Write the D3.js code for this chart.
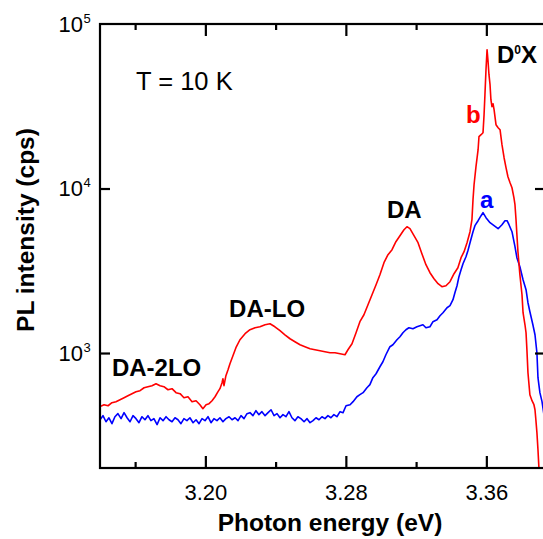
<!DOCTYPE html>
<html><head><meta charset="utf-8">
<script src="https://cdn.jsdelivr.net/npm/d3@7"></script>
<style>body{margin:0;background:#fff} svg text{font-family:"Liberation Sans",Arial,sans-serif}</style>
</head><body>
<svg id="chart" width="543" height="539"></svg>
<script>
// Photon energy (eV) vs PL intensity (cps), spectrum b (red)
const redSpectrum = [
[3.1400,472],[3.1423,485],[3.1446,478],[3.1468,499],[3.1491,506],[3.1514,520],[3.1537,535],[3.1559,550],
[3.1582,566],[3.1605,582],[3.1628,590],[3.1651,615],[3.1673,624],[3.1696,633],[3.1719,651],[3.1742,633],
[3.1764,624],[3.1787,598],[3.1810,607],[3.1833,574],[3.1856,566],[3.1878,535],[3.1901,542],[3.1924,506],
[3.1947,513],[3.1969,485],[3.1986,459],[3.2004,485],[3.2021,492],[3.2038,513],[3.2055,542],[3.2072,582],
[3.2083,607],[3.2095,660],[3.2100,698],[3.2106,633],[3.2117,728],[3.2129,791],[3.2140,861],[3.2157,963],
[3.2174,1077],[3.2197,1204],[3.2226,1310],[3.2254,1385],[3.2283,1424],[3.2311,1444],[3.2340,1485],[3.2368,1506],
[3.2396,1444],[3.2425,1366],[3.2453,1291],[3.2482,1221],[3.2510,1171],[3.2539,1123],[3.2567,1092],[3.2596,1062],
[3.2624,1047],[3.2653,1032],[3.2681,1018],[3.2710,1004],[3.2738,1004],[3.2767,990],[3.2795,976],[3.2812,1047],
[3.2835,1139],[3.2858,1328],[3.2880,1550],[3.2903,1709],[3.2926,1966],[3.2949,2261],[3.2972,2601],[3.2994,2992],
[3.3017,3539],[3.3040,3959],[3.3063,4246],[3.3085,4749],[3.3108,5166],[3.3131,5618],[3.3148,5859],[3.3165,5697],
[3.3188,5166],[3.3211,4683],[3.3233,4015],[3.3256,3442],[3.3279,3077],[3.3302,2829],[3.3325,2638],[3.3347,2530],
[3.3370,2565],[3.3393,2713],[3.3416,3034],[3.3438,3300],[3.3456,3796],[3.3473,4129],[3.3490,4683],[3.3507,5463],
[3.3518,6462],[3.3524,8551],[3.3530,10544],[3.3541,13568],[3.3553,17210],[3.3558,20650],[3.3570,21235],[3.3581,21840],
[3.3587,28093],[3.3592,37175],[3.3598,52760],[3.3604,69810],[3.3609,60670],[3.3615,49193],[3.3621,42760],[3.3626,34660],
[3.3632,31423],[3.3638,32773],[3.3644,30130],[3.3655,24420],[3.3667,23417],[3.3678,22770],[3.3689,18462],[3.3701,15385],
[3.3712,13380],[3.3723,11795],[3.3735,10845],[3.3746,10110],[3.3757,8794],[3.3763,7973],[3.3769,6462],[3.3774,5238],
[3.3780,4129],[3.3791,2992],[3.3803,2261],[3.3809,1758],[3.3820,1485],[3.3826,1328],[3.3831,1047],[3.3837,759],
[3.3848,558],[3.3860,513],[3.3871,485],[3.3877,452],[3.3882,393],[3.3888,328],[3.3894,258],[3.3899,204],[3.3905,170]
];
// spectrum a (blue)
const blueSpectrum = [
[3.1400,393],[3.1417,416],[3.1434,382],[3.1451,404],[3.1468,372],[3.1485,410],[3.1502,428],[3.1520,399],
[3.1537,434],[3.1554,404],[3.1571,382],[3.1588,416],[3.1605,399],[3.1622,377],[3.1639,410],[3.1656,393],
[3.1673,416],[3.1690,388],[3.1707,399],[3.1725,367],[3.1742,404],[3.1759,388],[3.1776,410],[3.1793,393],
[3.1810,382],[3.1827,404],[3.1844,393],[3.1861,372],[3.1878,399],[3.1895,388],[3.1912,404],[3.1930,377],
[3.1947,393],[3.1964,372],[3.1981,399],[3.1998,388],[3.2015,410],[3.2032,377],[3.2049,399],[3.2066,388],
[3.2083,404],[3.2100,382],[3.2117,399],[3.2135,410],[3.2152,393],[3.2169,404],[3.2186,388],[3.2203,416],
[3.2220,399],[3.2237,428],[3.2254,434],[3.2271,416],[3.2288,446],[3.2305,422],[3.2322,440],[3.2340,416],
[3.2357,434],[3.2374,452],[3.2391,416],[3.2408,428],[3.2425,404],[3.2442,422],[3.2459,410],[3.2476,440],
[3.2493,404],[3.2510,388],[3.2527,410],[3.2544,399],[3.2562,382],[3.2579,399],[3.2596,377],[3.2613,388],
[3.2630,404],[3.2647,393],[3.2664,410],[3.2681,399],[3.2698,416],[3.2715,404],[3.2732,422],[3.2749,410],
[3.2767,440],[3.2784,434],[3.2801,478],[3.2824,485],[3.2841,506],[3.2863,542],[3.2880,558],[3.2898,574],
[3.2920,615],[3.2937,642],[3.2954,708],[3.2972,748],[3.2994,825],[3.3011,885],[3.3028,976],[3.3051,1092],
[3.3068,1123],[3.3091,1204],[3.3108,1256],[3.3125,1328],[3.3142,1385],[3.3159,1424],[3.3182,1404],[3.3205,1444],
[3.3222,1465],[3.3239,1485],[3.3256,1424],[3.3279,1444],[3.3296,1550],[3.3319,1594],[3.3336,1685],[3.3353,1758],
[3.3376,1885],[3.3393,1939],[3.3410,2109],[3.3421,2325],[3.3433,2565],[3.3444,2910],[3.3456,3209],[3.3467,3490],
[3.3484,3849],[3.3495,4187],[3.3507,4683],[3.3524,5463],[3.3535,5942],[3.3553,6372],[3.3570,6834],[3.3581,7128],
[3.3598,6646],[3.3621,6196],[3.3644,5942],[3.3667,5697],[3.3689,6025],[3.3706,6372],[3.3718,6372],[3.3729,6025],
[3.3746,5463],[3.3763,4428],[3.3774,3796],[3.3791,3347],[3.3809,2790],[3.3826,2425],[3.3837,2022],[3.3848,1782],
[3.3865,1485],[3.3877,1291],[3.3888,1004],[3.3894,708],[3.3905,574],[3.3917,506],[3.3928,422]
];
const xMajorTicks = [3.20, 3.28, 3.36];
const xMinorTicks = [3.16, 3.24, 3.32];
const yTicks = [1e3, 1e4, 1e5];
const yExponents = ["3", "4", "5"];
const peakLabels = [
  {text:"DA-2LO", e:3.1468, v:728},
  {text:"DA-LO", e:3.2135, v:1663},
  {text:"DA", e:3.3034, v:6645}
];

const svg = d3.select("#chart");
const L = 100, R = 545, T = 24, B = 468;
const x = d3.scaleLinear().domain([3.14, 3.3934]).range([L, R]);
const y = d3.scaleLog().domain([200, 1e5]).range([B, T]);

svg.append("defs").append("clipPath").attr("id","clip")
  .append("rect").attr("x",L).attr("y",T).attr("width",R-L).attr("height",B-T);

const line = d3.line().x(d=>x(d[0])).y(d=>y(d[1]));
const plot = svg.append("g").attr("clip-path","url(#clip)");
plot.append("path").datum(blueSpectrum).attr("d",line)
  .attr("fill","none").attr("stroke","#0000ff").attr("stroke-width",1.6).attr("stroke-linejoin","round");
plot.append("path").datum(redSpectrum).attr("d",line)
  .attr("fill","none").attr("stroke","#ff0000").attr("stroke-width",1.6).attr("stroke-linejoin","round");

// frame
svg.append("rect").attr("x",L).attr("y",T).attr("width",R-L).attr("height",B-T)
  .attr("fill","none").attr("stroke","#000").attr("stroke-width",2.2);

function styleAxis(g){
  g.select(".domain").remove();
  g.selectAll(".tick line").attr("stroke","#000").attr("stroke-width",2.2);
  g.attr("font-family","Liberation Sans, Arial, sans-serif").attr("font-size",22);
  g.selectAll(".tick text").attr("fill","#000");
}
svg.append("g").attr("transform",`translate(0,${B})`)
  .call(d3.axisBottom(x).tickValues(xMajorTicks).tickSize(-12).tickPadding(16.5).tickFormat(d3.format(".2f")))
  .call(styleAxis);
svg.append("g").attr("transform",`translate(0,${B})`)
  .call(d3.axisBottom(x).tickValues(xMinorTicks).tickSize(-6).tickFormat(""))
  .call(styleAxis);
svg.append("g").attr("transform",`translate(0,${T})`)
  .call(d3.axisTop(x).tickValues(xMajorTicks).tickSize(-12).tickFormat(""))
  .call(styleAxis);
svg.append("g").attr("transform",`translate(0,${T})`)
  .call(d3.axisTop(x).tickValues(xMinorTicks).tickSize(-6).tickFormat(""))
  .call(styleAxis);
svg.append("g").attr("transform",`translate(${L},0)`)
  .call(d3.axisLeft(y).tickValues(yTicks.slice(0,2)).tickSize(-10).tickFormat(""))
  .call(styleAxis);
svg.append("g").attr("transform",`translate(${R},0)`)
  .call(d3.axisRight(y).tickValues(yTicks.slice(0,2)).tickSize(-10).tickFormat(""))
  .call(styleAxis);

// y tick labels 10^n
yTicks.forEach((v,i)=>{
  svg.append("text").attr("x",83).attr("y",y(v)+7.5).attr("text-anchor","end")
    .attr("font-size",22).text("10");
  svg.append("text").attr("x",83.5).attr("y",y(v)-1.5)
    .attr("font-size",13).text(yExponents[i]);
});

// axis titles
svg.append("text").attr("x",330).attr("y",531).attr("text-anchor","middle")
  .attr("font-size",24.5).attr("font-weight","bold").text("Photon energy (eV)");
svg.append("text").attr("transform","translate(34,230) rotate(-90)").attr("text-anchor","middle")
  .attr("font-size",24.5).attr("font-weight","bold").text("PL intensity (cps)");

// annotations
svg.append("text").attr("x",136).attr("y",90).attr("font-size",25.5).text("T = 10 K");
peakLabels.forEach(p=>{
  svg.append("text").attr("x",x(p.e)).attr("y",y(p.v)).attr("font-size",24).attr("font-weight","bold").text(p.text);
});
const dx = svg.append("text").attr("x",497).attr("y",63).attr("font-size",24).attr("font-weight","bold");
dx.append("tspan").text("D");
dx.append("tspan").attr("font-size",12).attr("dy",-9).text("0");
dx.append("tspan").attr("dy",9).text("X");
svg.append("text").attr("x",466).attr("y",123).attr("font-size",24).attr("font-weight","bold")
  .attr("fill","#ff0000").text("b");
svg.append("text").attr("x",480).attr("y",208).attr("font-size",24).attr("font-weight","bold")
  .attr("fill","#0000ff").text("a");
</script>
</body></html>
